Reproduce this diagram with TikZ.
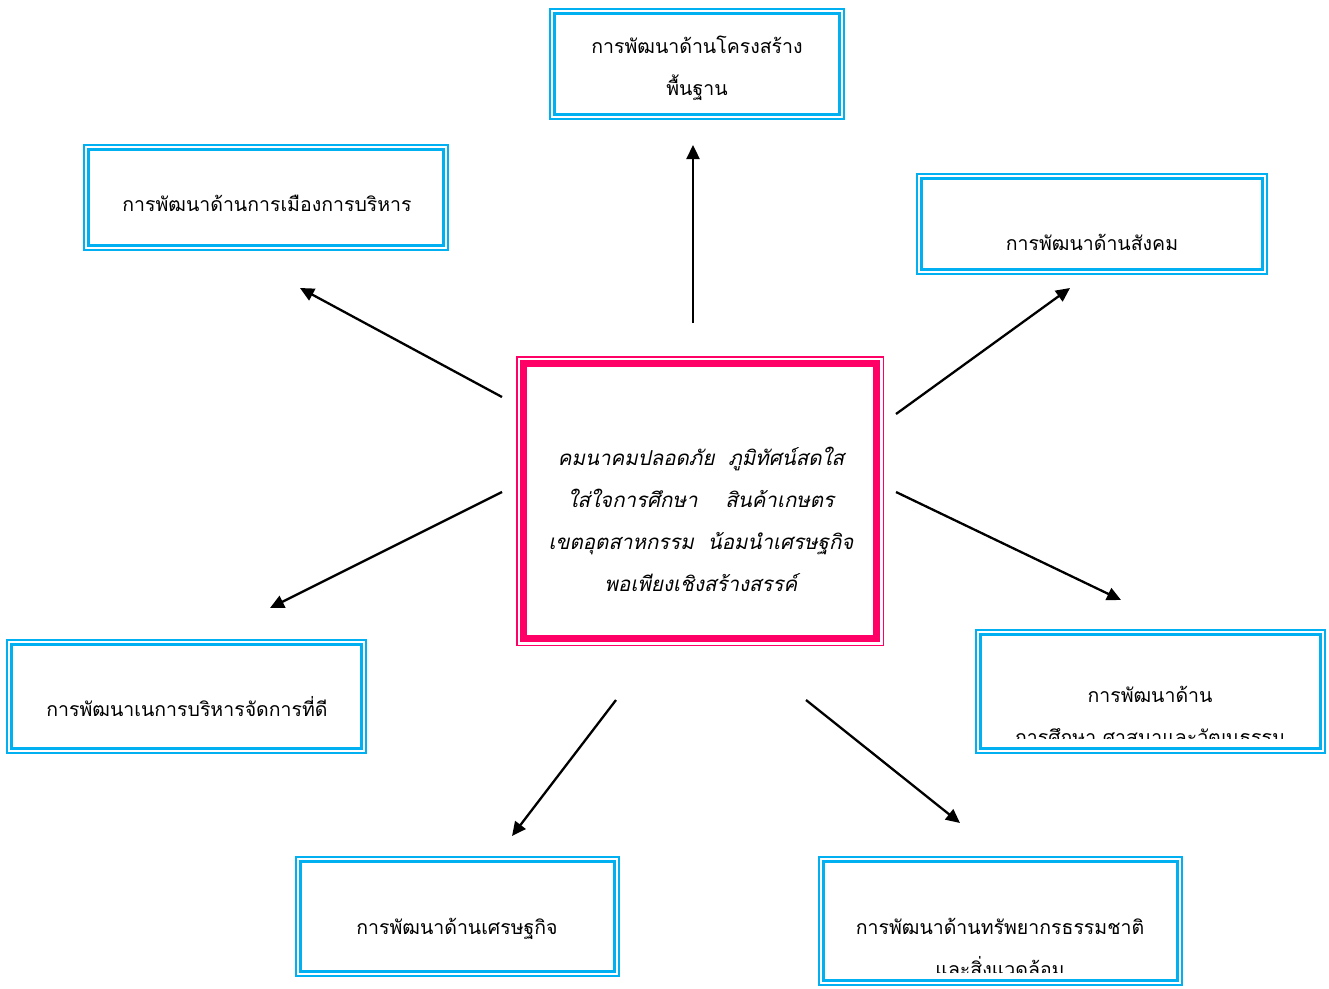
\documentclass[tikz,border=0pt]{standalone}
\usepackage{fontspec}
\newfontfamily\thaifont[Script=Thai]{Loma}
\usetikzlibrary{arrows.meta}
\definecolor{boxblue}{HTML}{00B0F0}
\definecolor{boxpink}{HTML}{FF0066}
\begin{document}
\begin{tikzpicture}[x=1pt,y=-1pt,
  bluebox/.style={draw=boxblue, line width=3pt, fill=white, inner sep=0pt,
    preaction={draw=boxblue, line width=11pt},
    preaction={draw=white, line width=7pt}},
  pinkbox/.style={draw=boxpink, line width=7pt, fill=white, inner sep=0pt,
    preaction={draw=boxpink, line width=15pt},
    preaction={draw=white, line width=12pt}},
  lbl/.style={font=\thaifont\fontsize{19.5}{42}\selectfont, align=center, inner sep=0pt, anchor=base},
  ctr/.style={font=\thaifont\itshape\fontsize{20.5}{41.7}\selectfont, align=center, inner sep=0pt, anchor=base},
  arr/.style={line width=2.3pt, -{Triangle[width=13pt,length=14pt]}}]
\useasboundingbox (0,0) rectangle (1329,988);
\fill[white] (0,0) rectangle (1329,988);
% boxes
\node[bluebox, minimum width=285pt, minimum height=101pt] (infra) at (697,64) {};
\node[bluebox, minimum width=355pt, minimum height=96pt] (polit) at (266,197.5) {};
\node[bluebox, minimum width=341pt, minimum height=91pt] (social) at (1092,224) {};
\node[pinkbox, minimum width=353pt, minimum height=275pt] (center) at (700,501) {};
\node[bluebox, minimum width=350pt, minimum height=104pt] (govern) at (186.5,696.5) {};
\node[bluebox, minimum width=340pt, minimum height=114pt] (educ) at (1150.5,691.5) {};
\node[bluebox, minimum width=314pt, minimum height=110pt] (econ) at (457.5,916.5) {};
\node[bluebox, minimum width=354pt, minimum height=119pt] (natur) at (1000.5,921) {};
% labels
\node[lbl] (tinfra) at (697,95) {การพัฒนาด้านโครงสร้าง\\พื้นฐาน};
\node[lbl] (tpolit) at (267,211) {การพัฒนาด้านการเมืองการบริหาร};
\node[lbl] (tsocial) at (1092,250) {การพัฒนาด้านสังคม};
\node[lbl] (tgovern) at (187,716) {การพัฒนาเนการบริหารจัดการที่ดี};
\node[lbl] (tecon) at (457,934) {การพัฒนาด้านเศรษฐกิจ};
\begin{scope}
\clip (982,637) rectangle (1319,738);
\node[lbl] (teduc) at (1150,744) {การพัฒนาด้าน\\การศึกษา  ศาสนาและวัฒนธรรม};
\end{scope}
\begin{scope}
\clip (825,863) rectangle (1176,972);
\node[lbl] (tnatur) at (1000,976) {การพัฒนาด้านทรัพยากรธรรมชาติ\\และสิ่งแวดล้อม};
\end{scope}
\node[ctr] (tcenter) at (701,591) {คมนาคมปลอดภัย~~ภูมิทัศน์สดใส\\ใส่ใจการศึกษา~~~~สินค้าเกษตร\\เขตอุตสาหกรรม~~น้อมนำเศรษฐกิจ\\พอเพียงเชิงสร้างสรรค์};
% arrow ends
\coordinate (s1) at (693,323); \coordinate (e1) at (693,145);
\coordinate (s2) at (502,397); \coordinate (e2) at (300,288);
\coordinate (s3) at (896,414); \coordinate (e3) at (1070,288);
\coordinate (s4) at (502,492); \coordinate (e4) at (270,608);
\coordinate (s5) at (896,492); \coordinate (e5) at (1121,600);
\coordinate (s6) at (616,700); \coordinate (e6) at (512,836);
\coordinate (s7) at (806,700); \coordinate (e7) at (960,823);
\foreach \i in {1,...,7} {\draw[arr] (s\i) -- (e\i);}
\end{tikzpicture}
\end{document}
